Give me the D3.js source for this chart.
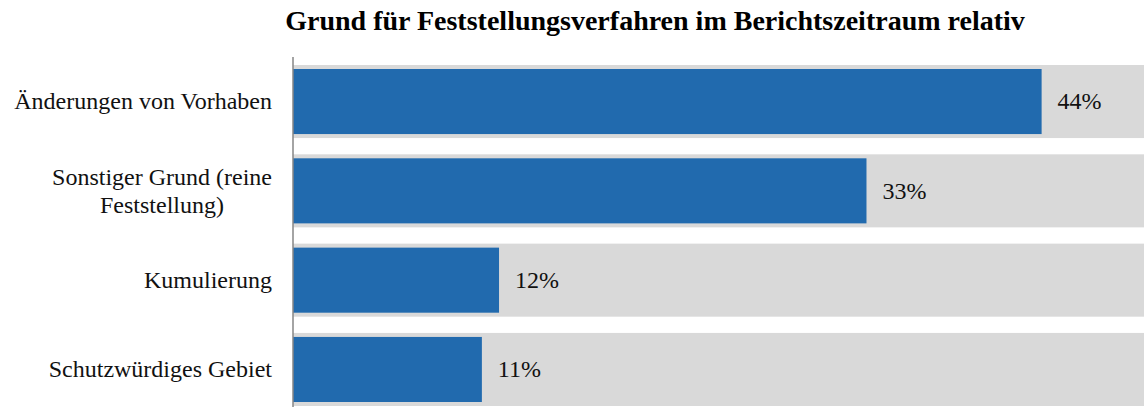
<!DOCTYPE html>
<html>
<head>
<meta charset="utf-8">
<script src="https://cdn.jsdelivr.net/npm/d3@7"></script>
<style>
  body { margin: 0; background: #fff; }
  svg { display: block; font-family: "Liberation Serif", "Times New Roman", serif; }
</style>
</head>
<body>
<div id="chart"></div>
<script>
let categories = ["Änderungen von Vorhaben", "Sonstiger Grund (reine|Feststellung)", "Kumulierung", "Schutzwürdiges Gebiet"];
let values = [43.6, 33.4, 12.0, 11.0];
let value_labels = ["44%", "33%", "12%", "11%"];
let chart_title = "Grund für Feststellungsverfahren im Berichtszeitraum relativ";

let width = 1144, height = 407;

let svg = d3.select("#chart").append("svg")
  .attr("width", width)
  .attr("height", height);

let x = d3.scaleLinear().domain([0, 50]).range([293, 1151.5]);
let y = d3.scaleBand().domain(categories).range([65, 406]).paddingInner(0.182).paddingOuter(0);

// title
svg.append("text")
  .attr("x", 655)
  .attr("y", 30)
  .attr("text-anchor", "middle")
  .style("font-size", "28px")
  .style("font-weight", "bold")
  .text(chart_title);

// grey background bands
svg.append("g")
  .selectAll("rect")
  .data(categories)
  .join("rect")
  .attr("x", x(0))
  .attr("y", d => y(d))
  .attr("width", width - x(0))
  .attr("height", y.bandwidth())
  .attr("fill", "#d9d9d9");

// blue bars
svg.append("g")
  .selectAll("rect")
  .data(values)
  .join("rect")
  .attr("x", x(0))
  .attr("y", (d, i) => y(categories[i]) + 4)
  .attr("width", d => x(d) - x(0))
  .attr("height", y.bandwidth() - 8)
  .attr("fill", "#216aae");

// value labels
svg.append("g")
  .selectAll("text")
  .data(values)
  .join("text")
  .attr("x", d => x(d) + 16)
  .attr("y", (d, i) => y(categories[i]) + y.bandwidth() / 2)
  .attr("dy", "0.33em")
  .style("font-size", "24px")
  .attr("fill", "#111")
  .text((d, i) => value_labels[i]);

// category labels (multi-line ones centred on each other)
let cat = svg.append("g")
  .selectAll("g")
  .data(categories)
  .join("g");

cat.each(function(d) {
  let lines = d.split("|");
  let g = d3.select(this);
  let cy = y(d) + y.bandwidth() / 2;
  let lh = 28;
  let t = g.append("text")
    .style("font-size", "24px")
    .attr("fill", "#111");
  lines.forEach(function(l, i) {
    t.append("tspan")
      .attr("x", 0)
      .attr("y", cy + (i - (lines.length - 1) / 2) * lh)
      .attr("dy", "0.33em")
      .attr("text-anchor", lines.length > 1 ? "middle" : "end")
      .text(l);
  });
  if (lines.length > 1) {
    // centre the block, then align its right edge at 272
    let w = t.node().getBBox().width;
    t.selectAll("tspan").attr("x", 272 - w / 2);
  } else {
    t.selectAll("tspan").attr("x", 272);
  }
});

// axis line
svg.append("line")
  .attr("x1", x(0))
  .attr("x2", x(0))
  .attr("y1", 57)
  .attr("y2", height)
  .attr("stroke", "#868686")
  .attr("stroke-width", 1.5);
</script>
</body>
</html>
